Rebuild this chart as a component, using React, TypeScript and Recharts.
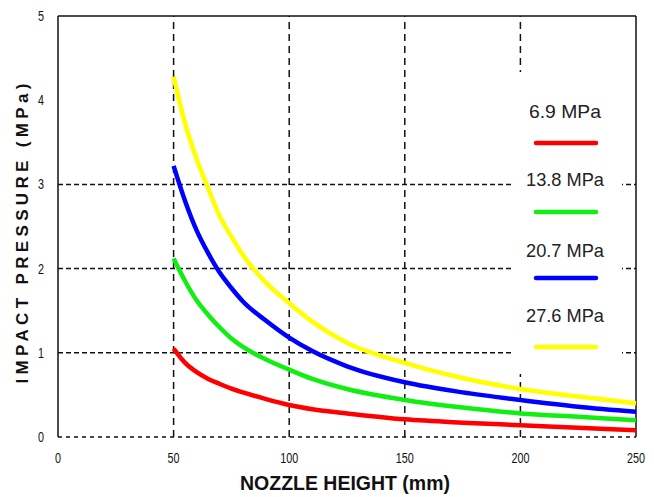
import { LineChart, Line, XAxis, YAxis, ReferenceLine } from "recharts";

const heights = [50, 55, 60, 65, 70, 75, 80, 90, 100, 110, 125, 150, 175, 200, 225, 250];
const p69 = [1.05, 0.88, 0.77, 0.69, 0.63, 0.575, 0.53, 0.45, 0.38, 0.33, 0.28, 0.21, 0.17, 0.14, 0.11, 0.08];
const p138 = [2.12, 1.85, 1.62, 1.45, 1.3, 1.17, 1.07, 0.92, 0.8, 0.69, 0.57, 0.44, 0.35, 0.28, 0.24, 0.2];
const p207 = [3.22, 2.8, 2.45, 2.18, 1.95, 1.77, 1.61, 1.38, 1.18, 1.02, 0.84, 0.65, 0.53, 0.44, 0.36, 0.3];
const p276 = [4.28, 3.72, 3.3, 2.95, 2.62, 2.38, 2.16, 1.83, 1.59, 1.37, 1.12, 0.88, 0.7, 0.57, 0.48, 0.4];

const seriesNames = ["6.9 MPa", "13.8 MPa", "20.7 MPa", "27.6 MPa"];
const seriesColors = ["#ff0000", "#11ee11", "#0000ff", "#ffff00"];
const seriesKeys = ["p69", "p138", "p207", "p276"];

const xTicks = [0, 50, 100, 150, 200, 250];
const yTicks = [0, 1, 2, 3, 4, 5];
const xGrid = [50, 100, 150, 200];
const yGrid = [1, 2, 3];

const data = heights.map((h, i) => ({
  h,
  p69: p69[i],
  p138: p138[i],
  p207: p207[i],
  p276: p276[i],
}));

const sans = "'Liberation Sans', Arial, sans-serif";

function NarrowTick(props: any) {
  const { x, y, payload, textAnchor, bottom } = props;
  const label = String(payload.value);
  return (
    <text
      x={x}
      y={y}
      dy={bottom ? "0.71em" : "0.355em"}
      textAnchor={textAnchor}
      fontFamily={sans}
      fontSize={14}
      fill="#111"
      textLength={label.length * 6}
      lengthAdjust="spacingAndGlyphs"
    >
      {label}
    </text>
  );
}

function YTitle(props: any) {
  const vb = props.viewBox || { x: 0, y: 16, width: 58, height: 421 };
  const cx = vb.x + 22;
  const cy = vb.y + vb.height / 2 + 7;
  return (
    <text
      x={cx}
      y={cy}
      transform={`rotate(-90 ${cx} ${cy})`}
      textAnchor="middle"
      dominantBaseline="central"
      fontFamily={sans}
      fontWeight="bold"
      fontSize={17}
      fill="#111"
      textLength={300}
      lengthAdjust="spacing"
    >
      IMPACT PRESSURE (MPa)
    </text>
  );
}

function XTitle(props: any) {
  const vb = props.viewBox || { x: 58, y: 437, width: 578, height: 60 };
  return (
    <text
      x={vb.x + vb.width / 2 - 2}
      y={vb.y + 53}
      textAnchor="middle"
      fontFamily={sans}
      fontWeight="bold"
      fontSize={21}
      fill="#111"
      textLength={210}
      lengthAdjust="spacingAndGlyphs"
    >
      NOZZLE HEIGHT (mm)
    </text>
  );
}

function LegendBox() {
  const labelY = [111, 179, 250, 315];
  const lineY = [143, 212, 278, 347];
  return (
    <svg
      width={116}
      height={304}
      style={{ position: "absolute", left: 509, top: 71 }}
      viewBox="509 71 116 304"
    >
      <rect x={511} y={72} width={111} height={302} fill="#fff" />
      {seriesNames.map((name, i) => (
        <g key={name}>
          <text
            x={565}
            y={labelY[i]}
            textAnchor="middle"
            dominantBaseline="central"
            fontFamily={sans}
            fontSize={19}
            fill="#222"
            textLength={i === 0 ? 72 : 78}
            lengthAdjust="spacingAndGlyphs"
          >
            {name}
          </text>
          <line x1={536} x2={596} y1={lineY[i]} y2={lineY[i]} stroke={seriesColors[i]} strokeWidth={4.5} strokeLinecap="round" />
        </g>
      ))}
    </svg>
  );
}

export default function App() {
  return (
    <div style={{ position: "absolute", left: 0, top: 0, width: 654, height: 497, background: "#fff" }}>
      <LineChart width={654} height={497} data={data} margin={{ top: 16, right: 18, left: 0, bottom: 0 }}>
        {xGrid.map((x) => (
          <ReferenceLine key={"x" + x} x={x} stroke="#111" strokeWidth={1.5} strokeDasharray="7 5" />
        ))}
        {yGrid.map((y) => (
          <ReferenceLine key={"y" + y} y={y} stroke="#111" strokeWidth={1.5} strokeDasharray="5 3" />
        ))}
        <ReferenceLine y={5} stroke="#111" strokeWidth={1.5} />
        <ReferenceLine x={250} stroke="#111" strokeWidth={1.5} />
        <XAxis
          dataKey="h"
          type="number"
          domain={[0, 250]}
          ticks={xTicks}
          height={60}
          tickLine={false}
          tickMargin={10}
          axisLine={{ stroke: "#111", strokeWidth: 1.5, strokeDasharray: "4 4" }}
          tick={<NarrowTick bottom />}
          label={<XTitle />}
        />
        <YAxis
          type="number"
          domain={[0, 5]}
          ticks={yTicks}
          width={58}
          tickLine={false}
          tickMargin={8}
          axisLine={{ stroke: "#111", strokeWidth: 1.5 }}
          tick={<NarrowTick />}
          label={<YTitle />}
        />
        {seriesKeys.map((k, i) => (
          <Line
            key={k}
            dataKey={k}
            name={seriesNames[i]}
            stroke={seriesColors[i]}
            strokeWidth={4.5}
            dot={false}
            type="monotone"
            isAnimationActive={false}
          />
        ))}
      </LineChart>
      <LegendBox />
    </div>
  );
}
